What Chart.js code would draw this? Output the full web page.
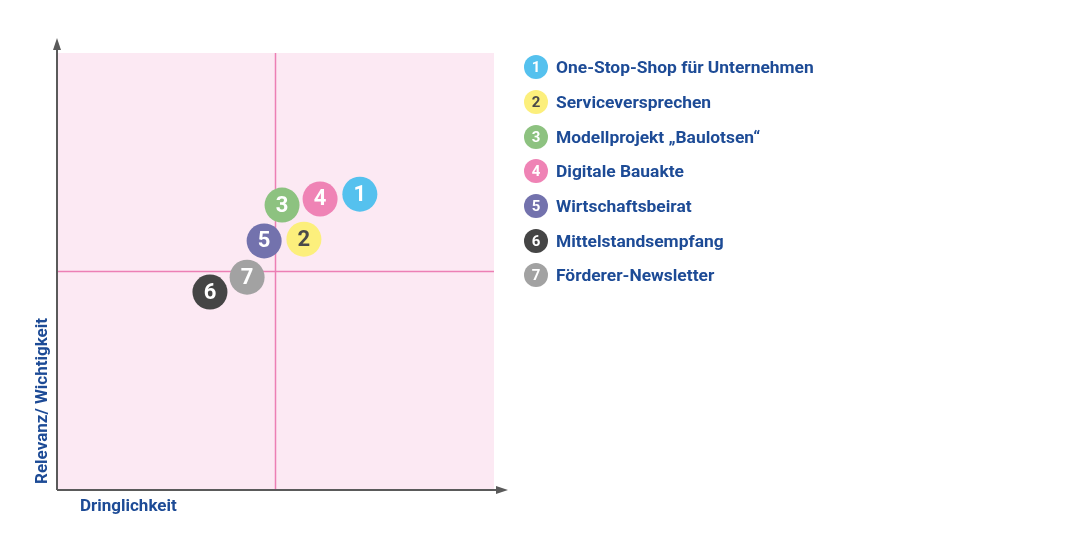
<!DOCTYPE html>
<html lang="de">
<head>
<meta charset="UTF-8">
<title>Dringlichkeit / Relevanz</title>
<style>
    body {
        margin: 0;
        background: #ffffff;
        font-family: Roboto, "Open Sans", sans-serif;
    }
    .wrap {
        position: relative;
        width: 1080px;
        height: 546px;
    }
    #matrix { position: absolute; left: 0; top: 0; }
    .legend {
        position: absolute;
        left: 524px;
        top: 50px;
        margin: 0;
        padding: 0;
        list-style: none;
    }
    .legend li {
        display: flex;
        align-items: center;
        height: 34.7px;
        color: #1d4b96;
        font-size: 17.4px;
        font-weight: 700;
    }
    .legend .dot {
        width: 24px;
        height: 24px;
        border-radius: 50%;
        margin-right: 8px;
        color: #fff;
        font-size: 15px;
        font-weight: 700;
        display: flex;
        align-items: center;
        justify-content: center;
    }
    .axis-title {
        position: absolute;
        color: #1d4b96;
        font-size: 17px;
        font-weight: 700;
        white-space: nowrap;
    }
    .x-title { left: 80px; top: 495px; }
    .y-title {
        left: 31px;
        top: 484px;
        transform-origin: 0 0;
        transform: rotate(-90deg);
    }
</style>
<script src="https://cdn.jsdelivr.net/npm/chart.js"></script>
</head>
<body>
<div class="wrap">
    <canvas id="matrix" width="1080" height="546"></canvas>
    <ul class="legend" id="legend"></ul>
    <div class="axis-title x-title">Dringlichkeit</div>
    <div class="axis-title y-title">Relevanz/ Wichtigkeit</div>
</div>
<script>
// Maßnahmen
const massnahmen = [
    'One-Stop-Shop für Unternehmen',
    'Serviceversprechen',
    'Modellprojekt „Baulotsen“',
    'Digitale Bauakte',
    'Wirtschaftsbeirat',
    'Mittelstandsempfang',
    'Förderer-Newsletter'
];
const nummern = ['1', '2', '3', '4', '5', '6', '7'];
// x = Dringlichkeit, y = Relevanz (Skala 0-10, Mitte 5)
const dringlichkeit = [6.93, 5.65, 5.15, 6.02, 4.74, 3.50, 4.35];
const relevanz = [6.77, 5.74, 6.52, 6.66, 5.70, 4.53, 4.87];
const farben = ['#55c1ee', '#fcef7c', '#8dc280', '#ef83b5', '#7372ad', '#454545', '#a2a2a2'];
const textFarben = ['#fff', '#4a4a4a', '#fff', '#fff', '#fff', '#fff', '#fff'];

// Legende
const legend = document.getElementById('legend');
let html = '';
massnahmen.forEach((name, i) => {
    html += `<li><span class="dot" style="background:${farben[i]};color:${textFarben[i]}">${nummern[i]}</span>${name}</li>`;
});
legend.innerHTML = html;

// Hintergrund, Mittellinien und Achsen mit Pfeilen
const matrixPlugin = {
    id: 'matrix',
    beforeDatasetsDraw(chart) {
        const { ctx, chartArea: a, scales: { x, y } } = chart;
        ctx.save();
        ctx.fillStyle = '#fce9f3';
        ctx.fillRect(a.left, a.top, a.right - a.left, a.bottom - a.top);

        ctx.strokeStyle = '#ec7fb4';
        ctx.lineWidth = 1.5;
        const mx = x.getPixelForValue(5);
        const my = y.getPixelForValue(5);
        ctx.beginPath();
        ctx.moveTo(mx, a.top); ctx.lineTo(mx, a.bottom);
        ctx.moveTo(a.left, my); ctx.lineTo(a.right, my);
        ctx.stroke();

        ctx.strokeStyle = '#5a5a5a';
        ctx.fillStyle = '#5a5a5a';
        ctx.lineWidth = 2;
        ctx.beginPath();
        ctx.moveTo(a.left, a.bottom); ctx.lineTo(a.left, a.top - 6);
        ctx.moveTo(a.left, a.bottom); ctx.lineTo(a.right + 6, a.bottom);
        ctx.stroke();
        ctx.beginPath();
        ctx.moveTo(a.left, a.top - 15);
        ctx.lineTo(a.left - 4, a.top - 3);
        ctx.lineTo(a.left + 4, a.top - 3);
        ctx.closePath();
        ctx.moveTo(a.right + 14, a.bottom);
        ctx.lineTo(a.right + 2, a.bottom - 4);
        ctx.lineTo(a.right + 2, a.bottom + 4);
        ctx.closePath();
        ctx.fill();
        ctx.restore();
    },
    afterDatasetsDraw(chart) {
        const { ctx } = chart;
        const meta = chart.getDatasetMeta(0);
        ctx.save();
        ctx.font = '700 22px Roboto, "Open Sans", sans-serif';
        ctx.textAlign = 'center';
        ctx.textBaseline = 'middle';
        meta.data.forEach((pt, i) => {
            ctx.fillStyle = textFarben[i];
            ctx.fillText(nummern[i], pt.x, pt.y + 1);
        });
        ctx.restore();
    }
};

new Chart(document.getElementById('matrix'), {
    type: 'scatter',
    data: {
        datasets: [{
            label: 'Maßnahmen',
            data: dringlichkeit.map((v, i) => ({ x: v, y: relevanz[i] })),
            backgroundColor: farben,
            borderWidth: 0,
            pointRadius: 17.5,
            pointHoverRadius: 17.5
        }]
    },
    options: {
        responsive: false,
        animation: false,
        layout: { padding: { left: 57, top: 53, right: 586, bottom: 56 } },
        scales: {
            x: { display: false, min: 0, max: 10 },
            y: { display: false, min: 0, max: 10 }
        },
        plugins: {
            legend: { display: false },
            tooltip: {
                callbacks: {
                    label: function(context) {
                        return massnahmen[context.dataIndex];
                    }
                }
            }
        }
    },
    plugins: [matrixPlugin]
});
</script>
</body>
</html>
